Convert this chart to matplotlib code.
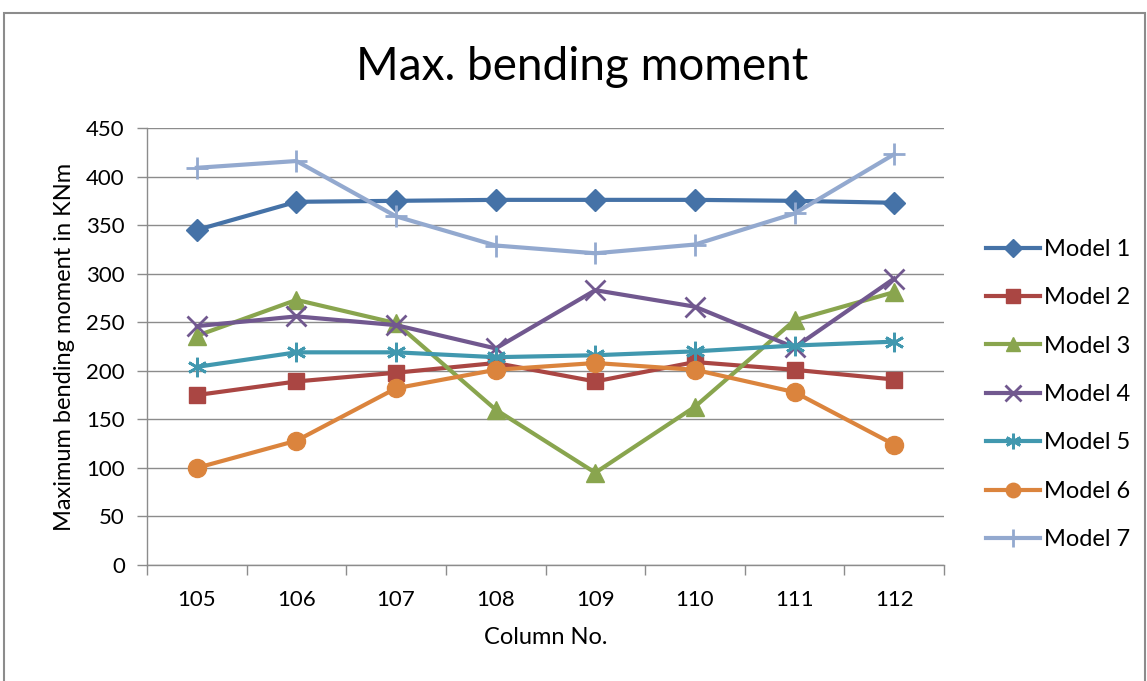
import matplotlib
matplotlib.use("Agg")
import matplotlib.pyplot as plt
from matplotlib.patches import Rectangle

plt.rcParams['font.family'] = ['Lato', 'DejaVu Sans']

columns = ["105", "106", "107", "108", "109", "110", "111", "112"]
model1 = [345, 374, 375, 376, 376, 376, 375, 373]
model2 = [175, 189, 198, 208, 189, 209, 201, 191]
model3 = [236, 273, 249, 160, 95, 163, 252, 281]
model4 = [246, 256, 247, 223, 283, 266, 224, 295]
model5 = [204, 219, 219, 214, 216, 220, 226, 230]
model6 = [100, 128, 182, 201, 208, 201, 178, 124]
model7 = [409, 416, 359, 329, 321, 330, 362, 423]
labels = ["Model 1", "Model 2", "Model 3", "Model 4", "Model 5", "Model 6", "Model 7"]
series = [model1, model2, model3, model4, model5, model6, model7]
y_ticks = [0, 50, 100, 150, 200, 250, 300, 350, 400, 450]

colors = ["#4572A7", "#AA4643", "#89A54E", "#71588F", "#4198AF", "#DB843D", "#93A9CF"]
markers = ["D", "s", "^", "x", "*", "o", "+"]
msizes = [11, 12, 13, 14, 14, 13, 16]

fig = plt.figure(figsize=(11.47, 6.81), dpi=100)
fig.patches.append(Rectangle((4 / 1147, -0.05), 1141 / 1147, 1.05 - 13 / 681,
                             transform=fig.transFigure, fill=False,
                             edgecolor="#8c8c8c", linewidth=1.5))

ax = fig.add_axes([147 / 1147, 1 - 565 / 681, (944 - 147) / 1147, (565 - 128) / 681])
x = list(range(len(columns)))
for vals, lab, c, m, ms in zip(series, labels, colors, markers, msizes):
    kw = dict(marker=m, markersize=ms, color=c, linewidth=3, label=lab)
    if m in ("x", "+"):
        kw.update(markeredgewidth=2)
    if m == "*":
        kw.update(marker=(6, 2, 0), markeredgewidth=2)
    ax.plot(x, vals, **kw)

ax.set_xlim(-0.5, len(columns) - 0.5)
ax.set_ylim(0, 450)
ax.set_yticks(y_ticks)
ax.set_xticks([i + 0.5 for i in range(-1, len(columns))], minor=False)
ax.set_xticklabels([])
ax.set_xticks(x, minor=True)
ax.set_xticklabels(columns, minor=True, fontsize=16)
ax.tick_params(axis="x", which="minor", length=0, pad=18)
ax.tick_params(axis="x", which="major", length=7, color="#8c8c8c", width=1)
ax.tick_params(axis="y", length=7, color="#8c8c8c", width=1, labelsize=16, pad=9)
ax.grid(axis="y", color="#8c8c8c", linewidth=1)
ax.set_axisbelow(True)
for s in ["top", "right"]:
    ax.spines[s].set_visible(False)
for s in ["left", "bottom"]:
    ax.spines[s].set_color("#8c8c8c")
    ax.spines[s].set_linewidth(1)

ax.set_xlabel("Column No.", fontsize=17, labelpad=12)
ax.set_ylabel("Maximum bending moment in KNm", fontsize=17, labelpad=8)
fig.text(582 / 1147, 1 - 67 / 681, "Max. bending moment",
         ha="center", va="center", fontsize=33)

leg = ax.legend(loc="center left", bbox_to_anchor=(1.026, 0.39), frameon=False,
                fontsize=17, handlelength=2.3, labelspacing=1.16, handletextpad=0.15,
                markerscale=0.8)

fig.savefig("out.png", dpi=100)
